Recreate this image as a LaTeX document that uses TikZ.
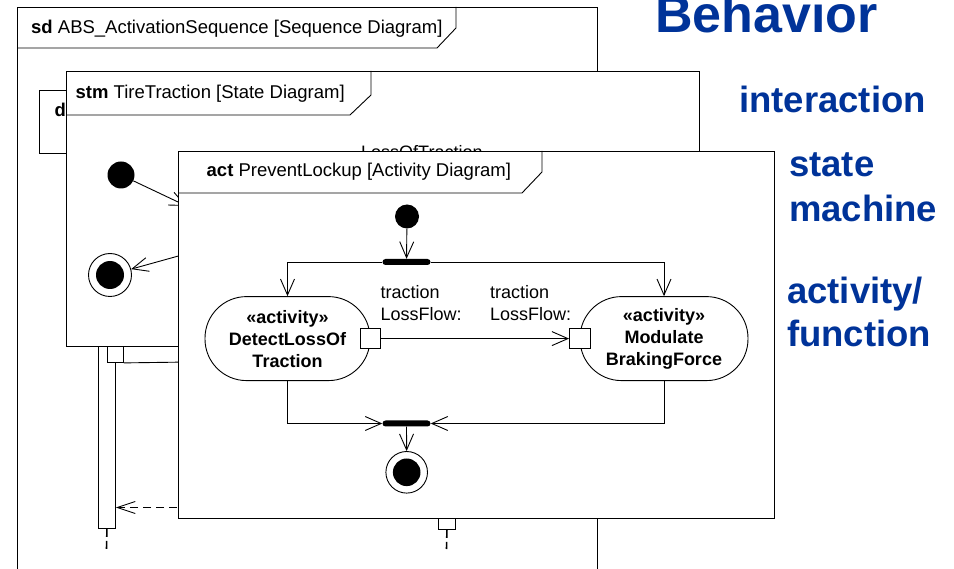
\documentclass[tikz,border=0pt]{standalone}
\usepackage{fontspec}
\setmainfont{Liberation Sans}
\usetikzlibrary{arrows.meta}

\definecolor{behblue}{RGB}{0,51,153}

\tikzset{
  ln/.style={draw=black, line width=0.9pt},
  frame/.style={ln, fill=white},
  flow/.style={ln, -{Straight Barb[length=16pt,width=14pt,line width=0.9pt]}},
  reply/.style={ln, line width=1.4pt, dash pattern=on 8pt off 5pt, -{Straight Barb[length=18pt,width=12pt,line width=0.9pt]}},
  lifedash/.style={ln, line width=1.6pt, dash pattern=on 8pt off 4pt},
  hdr/.style={anchor=west, inner sep=0pt, font=\fontsize{18.5}{22}\selectfont},
  lbl/.style={anchor=base west, inner sep=0pt, font=\fontsize{18}{22}\selectfont},
  box/.style={frame, inner sep=0pt, anchor=north west},
  initnode/.style={circle, fill=black, inner sep=0pt},
  finalnode/.style={circle, draw=black, line width=0.9pt, fill=white, inner sep=0pt,
    path picture={\fill[black] (path picture bounding box.center) circle (#1);}},
  bar/.style={fill=black, rounded corners=3pt, inner sep=0pt, minimum width=48pt, minimum height=6pt},
  actnode/.style={frame, rounded corners=41.5pt, minimum height=84pt, inner sep=0pt,
    align=center, font=\bfseries\fontsize{18}{22}\selectfont},
  pinbox/.style={frame, inner sep=0pt, minimum width=20pt, minimum height=19.5pt},
  big/.style={anchor=base west, inner sep=0pt, text=behblue},
}

\begin{document}
\begin{tikzpicture}[x=1pt, y=-1pt]
\useasboundingbox (0,0) rectangle (954,569);
\clip (0,0) rectangle (954,569);

% ---- sequence diagram frame ----
\draw[frame] (17,7) rectangle (597,620);
\draw[ln] (17,48) -- (437,48) -- (456,28) -- (456,7);
\node[hdr] (sdtitle) at (31,28.5) {\textbf{sd} ABS\_ActivationSequence [Sequence Diagram]};

% partly hidden interaction use
\draw[frame] (39,90) rectangle (140,153);
\node[hdr, font=\bfseries\fontsize{18.5}{22}\selectfont] (refd) at (54.5,110) {d};

% lifelines and activations
\node[box, minimum width=17pt, minimum height=198pt] (barA) at (98,330) {};
\node[box, minimum width=16pt, minimum height=32pt] (barB) at (107,330) {};
\coordinate (hidB) at (190,362);
\draw[ln] (barB.south east) -- (hidB);
\coordinate (msgsrc) at (190,507.5);
\draw[reply] (msgsrc) -- (barA.east |- msgsrc);
\coordinate (endA) at (106.5,549);
\draw[lifedash] (barA.south) -- (endA);

\node[box, minimum width=17pt, minimum height=24pt] (barC) at (438,505) {};
\coordinate (endC) at (446.5,549);
\draw[lifedash] (barC.south) -- (endC);

% ---- state machine frame ----
\draw[frame] (66,71) rectangle (699,346);
\draw[ln] (66,115) -- (350,115) -- (371,95) -- (371,71);
\node[hdr] (stmtitle) at (75.5,93.5) {\textbf{stm} TireTraction [State Diagram]};

\node[initnode, minimum size=27pt] (sini) at (121,175) {};
\node[finalnode=14pt, minimum size=43pt] (sfin) at (110,275) {};
\coordinate (lossIn) at (186.5,206);
\coordinate (lossOut) at (200,250);
\draw[flow] (sini) -- (lossIn);
\draw[flow] (lossOut) -- (sfin);
\node[anchor=north west, inner sep=0pt, font=\fontsize{18}{22}\selectfont] (lossname) at (361,145) {LossOfTraction};

% ---- activity frame ----
\draw[frame] (178,151) rectangle (774,518);
\draw[ln] (178,193) -- (522,193) -- (542,172) -- (542,151);
\node[hdr] (acttitle) at (206.5,172) {\textbf{act} PreventLockup [Activity Diagram]};

\node[initnode, minimum size=24pt] (ainit) at (407,216.5) {};
\node[bar] (fork) at (406.5,262) {};
\node[bar] (join) at (406.5,423.5) {};
\node[finalnode=13.8pt, minimum size=41.6pt] (afin) at (406.7,472.3) {};

\node[actnode, minimum width=165pt] (detect) at (287.5,338.6)
  {«activity»\\DetectLossOf\\Traction};
\node[actnode, minimum width=168pt] (modulate) at (664,338.6)
  {«activity»\\Modulate\\BrakingForce};

\node[pinbox] (pout) at (370,338.6) {};
\node[pinbox, minimum width=21pt] (pin) at (580,338.6) {};

\draw[flow] (ainit) -- (fork);
\draw[flow] (fork.west) -| (detect.north);
\draw[flow] (fork.east) -| (modulate.north);
\draw[flow] (pout) -- (pin);
\draw[flow] (detect.south) |- (join.west);
\draw[flow] (modulate.south) |- (join.east);
\draw[flow] (join) -- (afin);

\node[lbl] (outA) at (380.5,299) {traction};
\node[lbl] (outB) at (380.5,321) {LossFlow:};
\node[lbl] (inA) at (490,299) {traction};
\node[lbl] (inB) at (490,321) {LossFlow:};

% ---- headings ----
\node[big, font=\bfseries\fontsize{52}{56}\selectfont] (tBehavior) at (655,33) {Behavior};
\node[big, font=\bfseries\fontsize{36.5}{44}\selectfont] (tInter) at (739,112.7) {interaction};
\node[big, font=\bfseries\fontsize{36.5}{44}\selectfont] (tState) at (789,176.7) {state};
\node[big, font=\bfseries\fontsize{36.5}{44}\selectfont] (tMach) at (789,221.7) {machine};
\node[big, font=\bfseries\fontsize{36.5}{44}\selectfont] (tAct) at (787,303.3) {activity/};
\node[big, font=\bfseries\fontsize{36.5}{44}\selectfont] (tFunc) at (787,346.7) {function};
\end{tikzpicture}
\end{document}
